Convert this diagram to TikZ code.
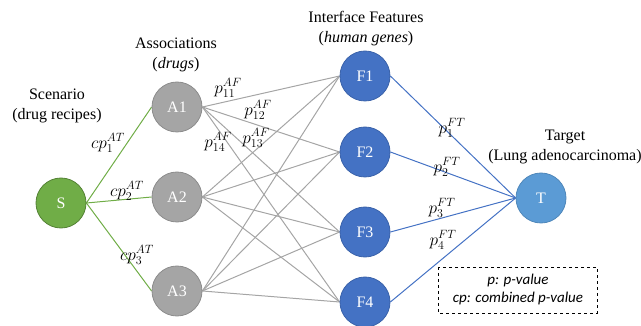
\documentclass[tikz,border=0pt]{standalone}
\usepackage{fontspec}
\setmainfont{Liberation Serif}
\newfontfamily\boxfont{Carlito}
\definecolor{sgreen}{HTML}{70AD47}
\definecolor{sgreenD}{HTML}{548235}
\definecolor{agray}{HTML}{A5A5A5}
\definecolor{agrayD}{HTML}{8C8C8C}
\definecolor{fblue}{HTML}{4472C4}
\definecolor{fblueD}{HTML}{3A62AA}
\definecolor{tblue}{HTML}{5B9BD5}
\definecolor{tblueD}{HTML}{4F87BA}
\pgfdeclarelayer{bg}
\pgfsetlayers{bg,main}
\begin{document}
\begin{tikzpicture}[x=1pt,y=-1pt,
  circ/.style={circle,minimum size=50pt,inner sep=0pt,line width=0.8pt,text=white,font=\fontsize{16}{19}\selectfont},
  snode/.style={circ,fill=sgreen,draw=sgreenD},
  anode/.style={circ,fill=agray,draw=agrayD},
  fnode/.style={circ,fill=fblue,draw=fblueD},
  tnode/.style={circ,fill=tblue,draw=tblueD},
  hdr/.style={align=center,font=\fontsize{16}{20}\selectfont,inner sep=0pt},
  lab/.style={inner sep=0pt,font=\fontsize{18}{20}\selectfont},
  gedge/.style={draw=sgreen,line width=1pt},
  aedge/.style={draw=agray,line width=1pt},
  fedge/.style={draw=fblue,line width=1pt}]
\useasboundingbox (0,0) rectangle (641,326);
\node[snode] (S) at (61,203) {S};
\node[anode] (A1) at (177,107) {A1};
\node[anode] (A2) at (177,197) {A2};
\node[anode] (A3) at (177,291) {A3};
\node[fnode] (F1) at (365,76) {F1};
\node[fnode] (F2) at (365,152) {F2};
\node[fnode] (F3) at (365,232) {F3};
\node[fnode] (F4) at (365,302) {F4};
\node[tnode] (T) at (541,198) {T};
\begin{pgfonlayer}{bg}
\foreach \a in {A1,A2,A3}{
  \draw[gedge] (S.east) -- (\a.west);
  \foreach \f in {F1,F2,F3,F4}{
    \draw[aedge] (\a.east) -- (\f.west);
  }
}
\foreach \f in {F1,F2,F3,F4}{
  \draw[fedge] (\f.east) -- (T.west);
}
\end{pgfonlayer}
% headers
\node[hdr] (hS) at (57,106) {Scenario\\(drug recipes)};
\node[hdr] (hA) at (176,55) {Associations\\(\textit{drugs})};
\node[hdr] (hF) at (366,29) {Interface Features\\(\textit{human genes})};
\node[hdr] (hT) at (565,147) {Target\\(Lung adenocarcinoma)};
% edge labels
\node[lab] (l1) at (108,143) {$cp_1^{AT}$};
\node[lab] (l2) at (127,191) {$cp_2^{AT}$};
\node[lab] (l3) at (137,255) {$cp_3^{AT}$};
\node[lab] (p11) at (228,88) {$p_{11}^{AF}$};
\node[lab] (p12) at (258,110) {$p_{12}^{AF}$};
\node[lab] (p13) at (256,138) {$p_{13}^{AF}$};
\node[lab] (p14) at (218,142) {$p_{14}^{AF}$};
\node[lab] (q1) at (452,128) {$p_{1}^{FT}$};
\node[lab] (q2) at (447,167) {$p_{2}^{FT}$};
\node[lab] (q3) at (442,208) {$p_{3}^{FT}$};
\node[lab] (q4) at (443,240) {$p_{4}^{FT}$};
% legend box
\draw[dashed,line width=0.8pt] (438,267) rectangle (597,313);
\node[inner sep=0pt,align=center,font=\boxfont\itshape\fontsize{15}{18}\selectfont] (leg) at (518,290) {p: p-value\\cp: combined p-value};
\end{tikzpicture}
\end{document}
